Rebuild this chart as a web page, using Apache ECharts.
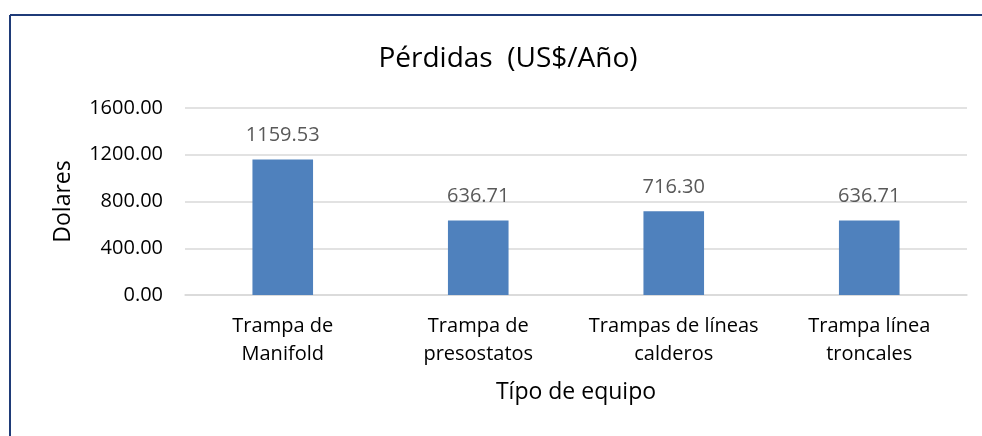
<!DOCTYPE html>
<html>
<head>
<meta charset="utf-8">
<script src="https://cdn.jsdelivr.net/npm/echarts@6/dist/echarts.min.js"></script>
<style>
  html, body { margin: 0; padding: 0; background: #fff; }
  #main { width: 982px; height: 436px; }
</style>
</head>
<body>
<div id="main"></div>
<script>
var categories = ["Trampa de\nManifold", "Trampa de\npresostatos", "Trampas de líneas\ncalderos", "Trampa línea\ntroncales"];
var losses = [1159.53, 636.71, 716.30, 636.71];
var yTicks = [0, 400, 800, 1200, 1600];

var FONT = "'Open Sans', 'Noto Sans', sans-serif";

var chart = echarts.init(document.getElementById('main'));

var option = {
    backgroundColor: '#fff',
    animation: false,
    title: {
        text: 'Pérdidas  (US$/Año)',
        left: 503,
        top: 40,
        textAlign: 'center',
        textStyle: { fontFamily: FONT, fontSize: 28, fontWeight: 'normal', color: '#000' }
    },
    graphic: [
        { type: 'line', shape: { x1: 10, y1: 15, x2: 982, y2: 15 }, style: { stroke: '#1f3b78', lineWidth: 2 } },
        { type: 'line', shape: { x1: 10, y1: 15, x2: 10, y2: 436 }, style: { stroke: '#1f3b78', lineWidth: 2 } }
    ],
    grid: { left: 185, right: 15, top: 108, bottom: 141, containLabel: false },
    xAxis: {
        type: 'category',
        data: categories,
        name: 'Típo de equipo',
        nameLocation: 'middle',
        nameGap: 86,
        nameTextStyle: { fontFamily: FONT, fontSize: 23, color: '#000' },
        axisLine: { show: true, lineStyle: { color: '#d9d9d9', width: 1.5 } },
        axisTick: { show: false },
        axisLabel: { fontFamily: FONT, fontSize: 20, color: '#000', lineHeight: 28, margin: 17, interval: 0 }
    },
    yAxis: {
        type: 'value',
        min: yTicks[0],
        max: yTicks[yTicks.length - 1],
        interval: 400,
        name: 'Dolares',
        nameLocation: 'middle',
        nameGap: 110,
        nameTextStyle: { fontFamily: FONT, fontSize: 23, color: '#000' },
        axisLine: { show: false },
        axisTick: { show: false },
        splitLine: { lineStyle: { color: '#d9d9d9', width: 1.5 } },
        axisLabel: {
            fontFamily: FONT, fontSize: 20, color: '#000', margin: 22,
            formatter: function (v) { return v.toFixed(2); }
        }
    },
    series: [{
        type: 'bar',
        data: losses,
        barWidth: '31%',
        itemStyle: { color: '#4f81bd' },
        label: {
            show: true,
            position: 'top',
            distance: 14,
            fontFamily: FONT,
            fontSize: 20,
            color: '#595959',
            formatter: function (p) { return p.value.toFixed(2); }
        }
    }]
};

chart.setOption(option);
</script>
</body>
</html>
